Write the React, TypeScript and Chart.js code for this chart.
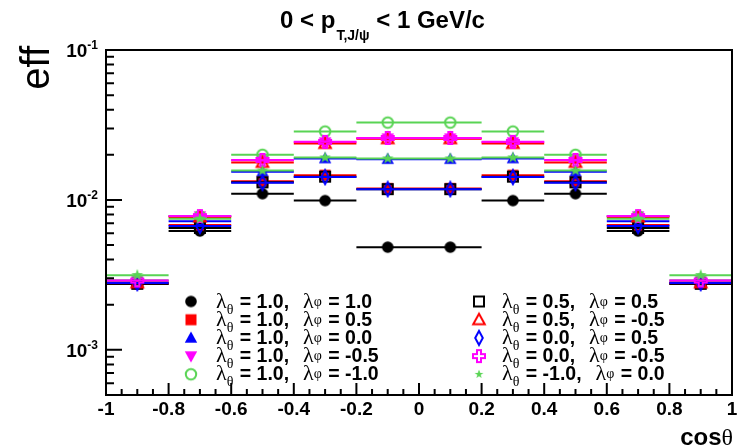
import React, { useEffect, useRef } from "react";
import { Chart, registerables } from "chart.js";

Chart.register(...registerables);

// ---------------- data ----------------
const binCenters = [-0.9, -0.7, -0.5, -0.3, -0.1, 0.1, 0.3, 0.5, 0.7, 0.9];
const binHalfWidth = 0.1;

const effTh1Ph1 = [0.00275, 0.0062, 0.011, 0.0099, 0.00484, 0.00484, 0.0099, 0.011, 0.0062, 0.00275];
const effTh1Ph05 = [0.00277, 0.0068, 0.0133, 0.0146, 0.0119, 0.0119, 0.0146, 0.0133, 0.0068, 0.00277];
const effTh1Ph0 = [0.00281, 0.0072, 0.0154, 0.0189, 0.0187, 0.0187, 0.0189, 0.0154, 0.0072, 0.00281];
const effTh1PhM05 = [0.0029, 0.0078, 0.0184, 0.0243, 0.0258, 0.0258, 0.0243, 0.0184, 0.0078, 0.0029];
const effTh1PhM1 = [0.0029, 0.0078, 0.02, 0.0286, 0.0328, 0.0328, 0.0286, 0.02, 0.0078, 0.0029];
const effTh05Ph05 = [0.00276, 0.0065, 0.0131, 0.0143, 0.0118, 0.0118, 0.0143, 0.0131, 0.0065, 0.00276];
const effTh05PhM05 = [0.0028, 0.0077, 0.0178, 0.0238, 0.0256, 0.0256, 0.0238, 0.0178, 0.0077, 0.0028];
const effTh0Ph05 = [0.00279, 0.0067, 0.013, 0.0142, 0.0118, 0.0118, 0.0142, 0.013, 0.0067, 0.00279];
const effTh0PhM05 = [0.0029, 0.0078, 0.0185, 0.0244, 0.0259, 0.0259, 0.0244, 0.0185, 0.0078, 0.0029];
const effThM1Ph0 = [0.00315, 0.0075, 0.0157, 0.0192, 0.0189, 0.0189, 0.0192, 0.0157, 0.0075, 0.00315];

const lambdaTheta = ["1.0", "1.0", "1.0", "1.0", "1.0", "0.5", "0.5", "0.0", "0.0", "-1.0"];
const lambdaPhi = ["1.0", "0.5", "0.0", "-0.5", "-1.0", "0.5", "-0.5", "0.5", "-0.5", "0.0"];

const xTickValues = [-1, -0.8, -0.6, -0.4, -0.2, 0, 0.2, 0.4, 0.6, 0.8, 1];
const xTickLabels = ["-1", "-0.8", "-0.6", "-0.4", "-0.2", "0", "0.2", "0.4", "0.6", "0.8", "1"];
const yTickValues = [0.001, 0.01, 0.1];
const yTickExponents = ["-3", "-2", "-1"];

const titleMain1 = "0 < p";
const titleSub = "T,J/\u03c8";
const titleMain2 = " < 1 GeV/c";
const yTitle = "eff";
const xTitleMain = "cos";
const xTitleSym = "\u03b8";

// ---------------- styles ----------------
const seriesValues = [
  effTh1Ph1, effTh1Ph05, effTh1Ph0, effTh1PhM05, effTh1PhM1,
  effTh05Ph05, effTh05PhM05, effTh0Ph05, effTh0PhM05, effThM1Ph0,
];
const GREEN = "#59d454";
const seriesColors = ["#000000", "#ff0000", "#0000ff", "#ff00ff", GREEN, "#000000", "#ff0000", "#0000ff", "#ff00ff", GREEN];
const seriesMarkers = ["fcircle", "fsquare", "ftriup", "ftridown", "ocircle", "osquare", "otriup", "odiamond", "ocross", "fstar"];

const SANS = "'Liberation Sans', Arial, Helvetica, sans-serif";
const SERIF = "'Liberation Serif', 'DejaVu Serif', serif";

function makeMarker(kind: string, color: string): HTMLCanvasElement {
  const c = document.createElement("canvas");
  c.width = 18;
  c.height = 18;
  const g = c.getContext("2d")!;
  g.translate(9, 9);
  g.fillStyle = color;
  g.strokeStyle = color;
  g.lineWidth = 2;
  g.lineJoin = "miter";
  const poly = (pts: number[][]) => {
    g.beginPath();
    g.moveTo(pts[0][0], pts[0][1]);
    for (let i = 1; i < pts.length; i++) g.lineTo(pts[i][0], pts[i][1]);
    g.closePath();
  };
  switch (kind) {
    case "fcircle":
      g.beginPath();
      g.arc(0, 0, 5.8, 0, Math.PI * 2);
      g.fill();
      break;
    case "fsquare":
      g.fillRect(-5.5, -5.5, 11, 11);
      break;
    case "ftriup":
      poly([[0, -6.5], [6.2, 4.8], [-6.2, 4.8]]);
      g.fill();
      break;
    case "ftridown":
      poly([[0, 6.5], [6.2, -4.8], [-6.2, -4.8]]);
      g.fill();
      break;
    case "ocircle":
      g.beginPath();
      g.arc(0, 0, 5.2, 0, Math.PI * 2);
      g.stroke();
      break;
    case "osquare":
      g.strokeRect(-5, -5, 10, 10);
      break;
    case "otriup":
      poly([[0, -6], [5.8, 4.5], [-5.8, 4.5]]);
      g.stroke();
      break;
    case "odiamond":
      poly([[0, -7], [3.8, 0], [0, 7], [-3.8, 0]]);
      g.stroke();
      break;
    case "ocross":
      poly([
        [-2, -6], [2, -6], [2, -2], [6, -2], [6, 2], [2, 2],
        [2, 6], [-2, 6], [-2, 2], [-6, 2], [-6, -2], [-2, -2],
      ]);
      g.stroke();
      break;
    case "fstar": {
      const pts: number[][] = [];
      for (let i = 0; i < 10; i++) {
        const r = i % 2 === 0 ? 6.2 : 2.5;
        const a = -Math.PI / 2 + (i * Math.PI) / 5;
        pts.push([r * Math.cos(a), r * Math.sin(a)]);
      }
      poly(pts);
      g.fill();
      break;
    }
  }
  return c;
}

export default function App() {
  const ref = useRef<HTMLCanvasElement>(null);

  useEffect(() => {
    document.body.style.margin = "0";
    const markers = seriesMarkers.map((m, i) => makeMarker(m, seriesColors[i]));

    const datasets = seriesValues.map((vals, i) => ({
      label: `s${i}`,
      data: binCenters.map((x, j) => ({ x, y: vals[j] })),
      pointStyle: markers[i] as any,
      pointRadius: 6,
      showLine: false,
      borderColor: seriesColors[i],
      backgroundColor: seriesColors[i],
      order: seriesValues.length - i,
    }));

    const rootPlugin = {
      id: "rootStyle",
      beforeDatasetDraw(chart: any, args: any) {
        const ctx = chart.ctx as CanvasRenderingContext2D;
        const xs = chart.scales.x;
        const ys = chart.scales.y;
        const i = args.index;
        const vals = seriesValues[i];
        ctx.save();
        ctx.strokeStyle = seriesColors[i];
        ctx.lineWidth = 2;
        ctx.beginPath();
        binCenters.forEach((x, j) => {
          const y = ys.getPixelForValue(vals[j]);
          ctx.moveTo(xs.getPixelForValue(x - binHalfWidth), y);
          ctx.lineTo(xs.getPixelForValue(x + binHalfWidth), y);
        });
        ctx.stroke();
        ctx.restore();
      },
      afterDraw(chart: any) {
        const ctx = chart.ctx as CanvasRenderingContext2D;
        const a = chart.chartArea;
        const xs = chart.scales.x;
        const ys = chart.scales.y;
        ctx.save();
        ctx.strokeStyle = "#000";
        ctx.fillStyle = "#000";
        // frame
        ctx.lineWidth = 2;
        ctx.strokeRect(a.left, a.top, a.right - a.left, a.bottom - a.top);
        // x ticks
        ctx.lineWidth = 2;
        ctx.beginPath();
        for (let k = -20; k <= 20; k++) {
          const v = k * 0.05;
          const px = xs.getPixelForValue(v);
          const len = k % 4 === 0 ? 12 : 6;
          ctx.moveTo(px, a.bottom);
          ctx.lineTo(px, a.bottom - len);
        }
        // y ticks
        const ymin = ys.min, ymax = ys.max;
        for (let e = -4; e <= -1; e++) {
          for (let m = 1; m <= 9; m++) {
            const v = m * Math.pow(10, e);
            if (v < ymin * 0.999 || v > ymax * 1.001) continue;
            const py = ys.getPixelForValue(v);
            const len = m === 1 ? 16 : 8;
            ctx.moveTo(a.left, py);
            ctx.lineTo(a.left + len, py);
          }
        }
        ctx.stroke();

        // x tick labels
        ctx.font = `bold 19px ${SANS}`;
        ctx.textAlign = "center";
        ctx.textBaseline = "alphabetic";
        xTickValues.forEach((v, k) => {
          ctx.fillText(xTickLabels[k], xs.getPixelForValue(v), 415);
        });
        // y tick labels 10^n
        yTickValues.forEach((v, k) => {
          const py = ys.getPixelForValue(v);
          ctx.font = `bold 12px ${SANS}`;
          const ws = ctx.measureText(yTickExponents[k]).width;
          ctx.font = `bold 19px ${SANS}`;
          const wm = ctx.measureText("10").width;
          const right = 98;
          ctx.textAlign = "left";
          ctx.fillText("10", right - ws - wm, py + 7);
          ctx.font = `bold 12px ${SANS}`;
          ctx.fillText(yTickExponents[k], right - ws, py - 1);
        });

        // title
        ctx.font = `bold 24px ${SANS}`;
        const w1 = ctx.measureText(titleMain1).width;
        const w3 = ctx.measureText(titleMain2).width;
        ctx.font = `bold 14px ${SANS}`;
        const w2 = ctx.measureText(titleSub).width;
        const tx = 382 - (w1 + w2 + w3) / 2;
        ctx.textAlign = "left";
        ctx.font = `bold 24px ${SANS}`;
        ctx.fillText(titleMain1, tx, 28);
        ctx.font = `bold 14px ${SANS}`;
        ctx.fillText(titleSub, tx + w1 + 1, 40);
        ctx.font = `bold 24px ${SANS}`;
        ctx.fillText(titleMain2, tx + w1 + w2 + 1, 28);

        // y title
        ctx.save();
        ctx.translate(49, 46);
        ctx.rotate(-Math.PI / 2);
        ctx.font = `40px ${SANS}`;
        ctx.textAlign = "right";
        ctx.fillText(yTitle, 0, 0);
        ctx.restore();

        // x title
        ctx.font = `24px ${SERIF}`;
        const wt = ctx.measureText(xTitleSym).width;
        ctx.textAlign = "right";
        ctx.fillText(xTitleSym, 733, 445);
        ctx.font = `bold 24px ${SANS}`;
        ctx.fillText(xTitleMain, 733 - wt, 445);

        // legend
        const rowY0 = 301.5;
        const rowStep = 18.2;
        seriesValues.forEach((_, i) => {
          const col = i < 5 ? 0 : 1;
          const row = i % 5;
          const cy = rowY0 + row * rowStep;
          const mx = col === 0 ? 191 : 479;
          const x0 = col === 0 ? 216 : 502;
          const mk = markers[i];
          const sc = seriesMarkers[i] === "fstar" ? 0.75 : 1;
          ctx.drawImage(mk, mx - (mk.width * sc) / 2, cy - (mk.height * sc) / 2, mk.width * sc, mk.height * sc);
          const base = cy + 6;
          let x = x0;
          ctx.textAlign = "left";
          ctx.font = `22px ${SERIF}`;
          ctx.fillText("\u03bb", x, base);
          x += ctx.measureText("\u03bb").width;
          ctx.font = `14px ${SERIF}`;
          ctx.fillText("\u03b8", x, base + 6);
          x += ctx.measureText("\u03b8").width + 1;
          ctx.font = `bold 19.5px ${SANS}`;
          const t1 = ` = ${lambdaTheta[i]},`;
          ctx.fillText(t1, x, base);
          x += ctx.measureText(t1).width + 14;
          ctx.font = `22px ${SERIF}`;
          ctx.fillText("\u03bb", x, base);
          x += ctx.measureText("\u03bb").width;
          ctx.font = `14px ${SERIF}`;
          ctx.fillText("\u03c6", x, base - 2);
          x += ctx.measureText("\u03c6").width + 1;
          ctx.font = `bold 19.5px ${SANS}`;
          ctx.fillText(` = ${lambdaPhi[i]}`, x, base);
        });
        ctx.restore();
      },
    };

    const chart = new Chart(ref.current!, {
      type: "scatter",
      data: { datasets: datasets as any },
      options: {
        animation: false,
        responsive: false,
        events: [],
        layout: { padding: { left: 0, right: 6, top: 50, bottom: 0 } },
        plugins: { legend: { display: false }, tooltip: { enabled: false }, title: { display: false } },
        scales: {
          x: {
            type: "linear",
            min: -1,
            max: 1,
            grid: { display: false },
            border: { display: false },
            ticks: { display: false },
            afterFit: (s: any) => { s.height = 53; },
          },
          y: {
            type: "logarithmic",
            min: 0.0005,
            max: 0.1,
            grid: { display: false },
            border: { display: false },
            ticks: { display: false },
            afterFit: (s: any) => { s.width = 106; },
          },
        },
      },
      plugins: [rootPlugin],
    });
    return () => chart.destroy();
  }, []);

  return (
    <div style={{ position: "relative", width: 739, height: 448 }}>
      <canvas ref={ref} width={739} height={448} style={{ display: "block", width: 739, height: 448 }} />
    </div>
  );
}
